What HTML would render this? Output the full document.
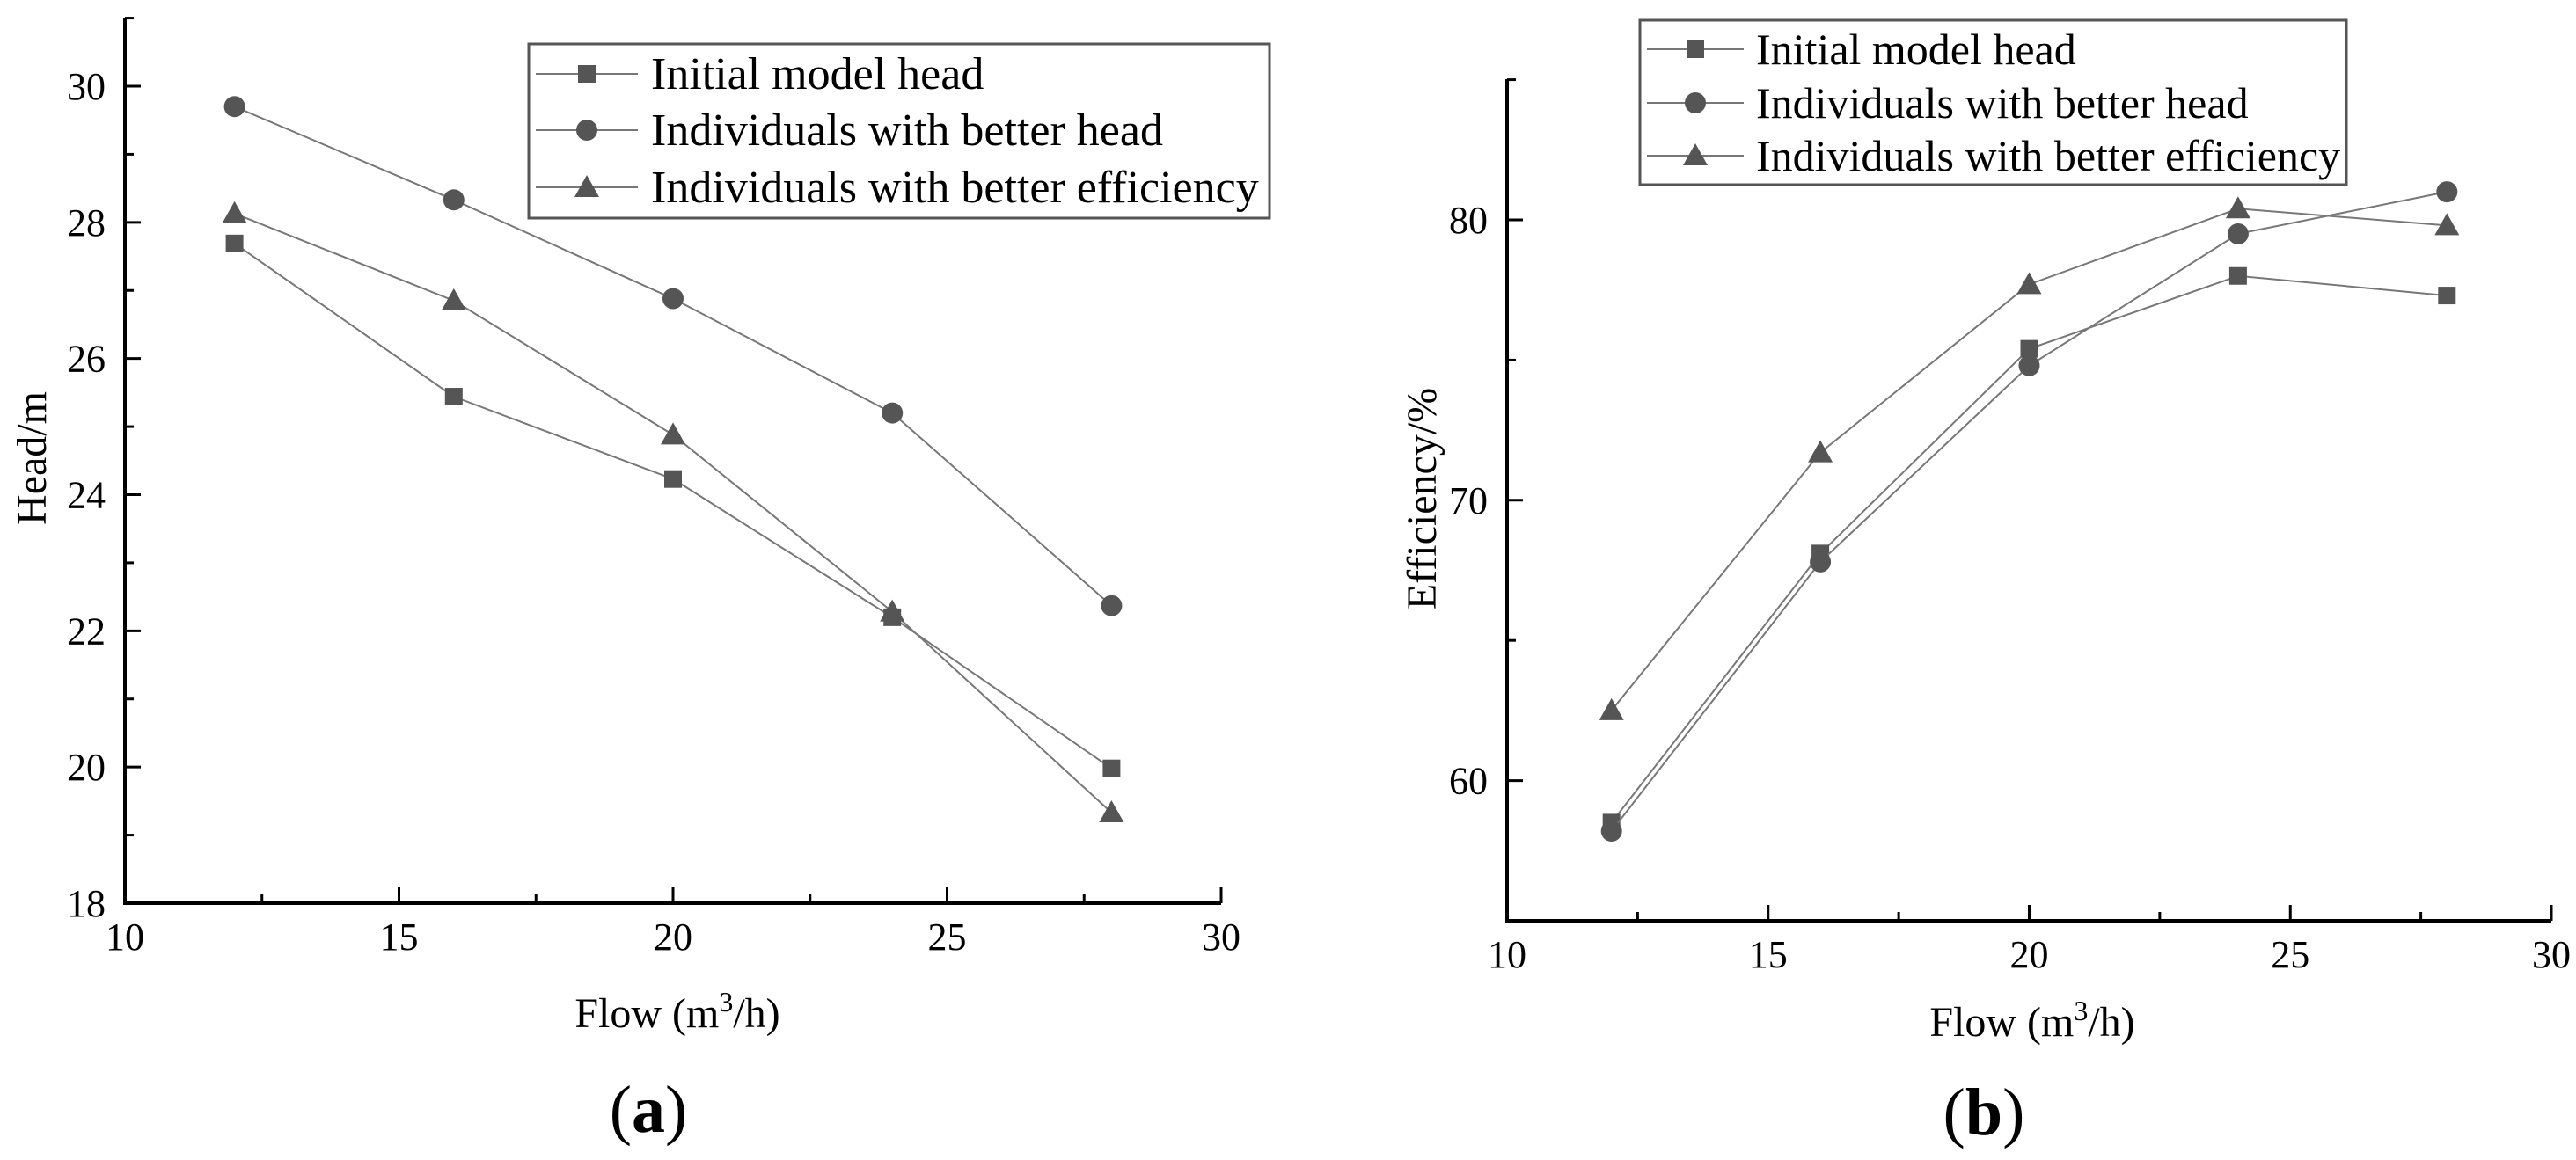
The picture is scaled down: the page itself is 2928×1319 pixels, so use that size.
<!DOCTYPE html>
<html><head><meta charset="utf-8"><style>
html,body{margin:0;padding:0;background:#fff}
svg{display:block}
text{font-family:"Liberation Serif",serif;fill:#000}
</style></head><body>
<svg id="svg" width="2928" height="1319" viewBox="0 0 2928 1319" xmlns="http://www.w3.org/2000/svg"></svg>
<script>
const flows = [12,16,20,24,28];
const headInitial = [27.69,25.44,24.23,22.2,19.98];
const headBetterHead = [29.7,28.33,26.88,25.2,22.37];
const headBetterEff = [28.13,26.85,24.88,22.28,19.33];
const effInitial = [58.5,68.1,75.4,78.0,77.3];
const effBetterHead = [58.2,67.8,74.8,79.5,81.0];
const effBetterEff = [62.5,71.7,77.7,80.4,79.8];
const xTicks = [10,15,20,25,30];
const headTicks = [18,20,22,24,26,28,30];
const effTicks = [60,70,80];
const seriesNames = ["Initial model head","Individuals with better head","Individuals with better efficiency"];
const markers = ["square","circle","triangle"];

const NS="http://www.w3.org/2000/svg";
const svg=document.getElementById('svg');
function el(tag,attrs,parent,txt){const e=document.createElementNS(NS,tag);for(const k in attrs)e.setAttribute(k,attrs[k]);if(txt!==undefined)e.textContent=txt;(parent||svg).appendChild(e);return e;}

function marker(g,type,cx,cy){
  let m;
  if(type==='square') m=el('rect',{x:cx-10,y:cy-10,width:20,height:20,fill:'#555'},g);
  else if(type==='circle') m=el('circle',{cx:cx,cy:cy,r:12,fill:'#555'},g);
  else m=el('polygon',{points:`${cx},${cy-14} ${cx+14},${cy+11} ${cx-14},${cy+11}`,fill:'#555'},g);
  return m;
}

function chart(cfg){
  const g=el('g',{});
  
  
  const X=v=>cfg.x0+(v-10)*(cfg.x1-cfg.x0)/20;
  const Y=v=>cfg.yb-(v-cfg.ymin)*(cfg.yb-cfg.yt)/(cfg.ymax-cfg.ymin);
  const ax=el('path',{d:`M${cfg.x0},${cfg.ytop} V${cfg.yb} H${cfg.x1}`,stroke:'#000','stroke-width':4,fill:'none'},g);
  
  
  for(let v=10;v<=30;v+=2.5){
    const major=Number.isInteger(v/5);
    el('line',{x1:X(v),x2:X(v),y1:cfg.yb,y2:cfg.yb-(major?18:10),stroke:'#000','stroke-width':3},g);
  }
  xTicks.forEach(v=>{
    const t=el('text',{x:X(v),y:cfg.yb+53,'font-size':44,'text-anchor':'middle'},g,String(v));
    
    
  });
  for(let v=cfg.ymin;v<=cfg.ymaxAxis+1e-9;v+=cfg.minor){
    const major=Math.abs((v-cfg.ticks[0])/cfg.major-Math.round((v-cfg.ticks[0])/cfg.major))<1e-6;
    el('line',{x1:cfg.x0,x2:cfg.x0+(major?18:10),y1:Y(v),y2:Y(v),stroke:'#000','stroke-width':3},g);
  }
  cfg.ticks.forEach(v=>{
    const t=el('text',{x:cfg.x0-22,y:Y(v)+15,'font-size':44,'text-anchor':'end'},g,String(v));
    
    
  });
  cfg.series.forEach((s,i)=>{
    const sg=el('g',{},g);
    
    
    el('polyline',{points:flows.map((f,j)=>X(f)+','+Y(s[j])).join(' '),fill:'none',stroke:'#777','stroke-width':2},sg);
    flows.forEach((f,j)=>{
      const m=marker(sg,markers[i],X(f),Y(s[j]));
      
      
    });
  });
  const L=cfg.legend;
  const lg=el('g',{},g);
  
  
  el('rect',{x:L.x,y:L.y,width:L.w,height:L.h,fill:'#fff',stroke:'#555','stroke-width':3},lg);
  seriesNames.forEach((n,i)=>{
    const cy=L.rows[i];
    const eg=el('g',{},lg);
    
    
    el('line',{x1:L.x+8,x2:L.x+L.sw,y1:cy,y2:cy,stroke:'#777','stroke-width':2},eg);
    marker(eg,markers[i],L.x+8+(L.sw-8)/2,cy);
    el('text',{x:L.tx,y:cy+17,'font-size':L.fs},eg,n);
  });
  const xt=el('text',{x:cfg.xtx,y:cfg.xty,'font-size':48,'text-anchor':'middle'},g);
  
  
  xt.appendChild(document.createTextNode('Flow (m'));
  el('tspan',{dy:-18,'font-size':32},xt,'3');
  el('tspan',{dy:18},xt,'/h)');
  const yt=el('text',{x:0,y:0,'font-size':48,'text-anchor':'middle',transform:`translate(${cfg.ytx},${cfg.yty}) rotate(-90)`},g,cfg.ytitle);
  
  
  const pl=el('text',{x:cfg.plx,y:cfg.ply,'font-size':76,'text-anchor':'middle'},g);
  
  
  pl.appendChild(document.createTextNode('('));
  el('tspan',{'font-weight':'bold'},pl,cfg.panel);
  pl.appendChild(document.createTextNode(')'));
}

chart({name:'head-chart',x0:142,x1:1388,yb:1027,yt:98,ymin:18,ymax:30,ymaxAxis:31,ytop:21,minor:1,major:2,ticks:headTicks,
  series:[headInitial,headBetterHead,headBetterEff],
  legend:{x:601,y:50,w:842,h:198,rows:[84,148,213],sw:124,tx:740,fs:52},
  xtx:770,xty:1168,ytitle:'Head/m',ytx:52,yty:521,plx:737,ply:1287,panel:'a'});
chart({name:'efficiency-chart',x0:1713,x1:2900,yb:1047,yt:250,ymin:55,ymax:80,ymaxAxis:85,ytop:90,minor:5,major:10,ticks:effTicks,
  series:[effInitial,effBetterHead,effBetterEff],
  legend:{x:1864,y:23,w:803,h:187,rows:[56,117,177],sw:118,tx:1996,fs:50},
  xtx:2310,xty:1178,ytitle:'Efficiency/%',ytx:1632,yty:567,plx:2255,ply:1290,panel:'b'});
</script>
</body></html>
